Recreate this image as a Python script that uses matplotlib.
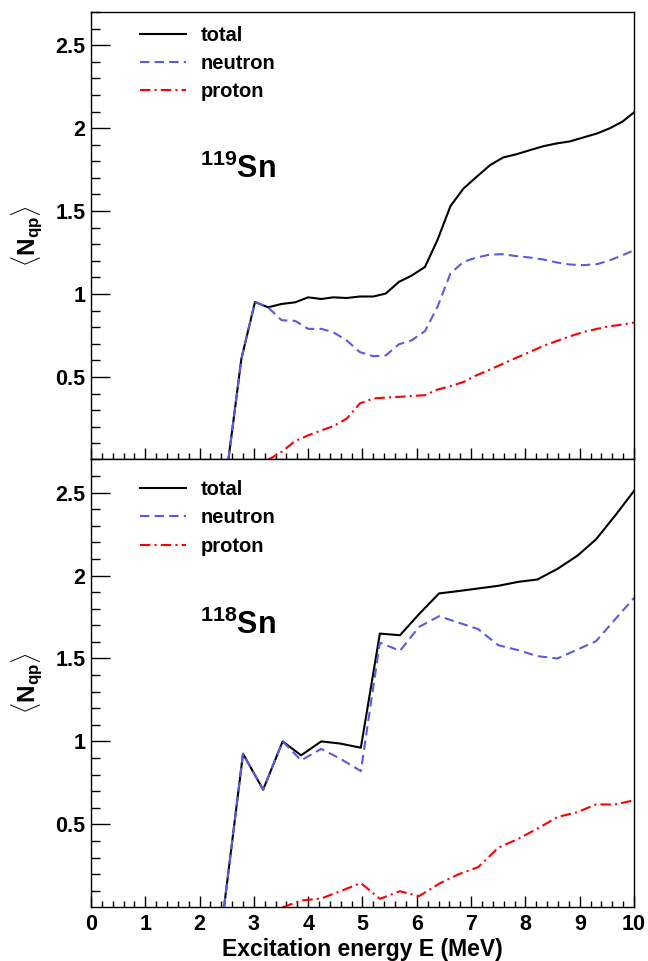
import numpy as np
import matplotlib
matplotlib.use("Agg")
import matplotlib.pyplot as plt
from matplotlib.ticker import MultipleLocator

plt.rcParams['font.family'] = ['Liberation Sans', 'DejaVu Sans']
plt.rcParams['font.weight'] = 'bold'
plt.rcParams['mathtext.fontset'] = 'custom'
plt.rcParams['mathtext.rm'] = 'Liberation Sans:bold'
plt.rcParams['mathtext.bf'] = 'Liberation Sans:bold'
plt.rcParams['mathtext.it'] = 'Liberation Sans:bold'

# --- 119Sn (top panel) ---
x119 = [2.53, 2.77, 3.02, 3.26, 3.51, 3.76, 4.00, 4.24, 4.46, 4.71, 4.95, 5.20, 5.43, 5.67,
        5.90, 6.15, 6.38, 6.62, 6.86, 7.10, 7.35, 7.59, 7.84, 8.08, 8.33, 8.58, 8.82, 9.07,
        9.32, 9.56, 9.79, 10.0]
total119 = [0.0, 0.61, 0.952, 0.92, 0.94, 0.95, 0.98, 0.97, 0.98, 0.976, 0.985, 0.985, 1.003, 1.073,
            1.11, 1.163, 1.325, 1.53, 1.636, 1.706, 1.777, 1.823, 1.843, 1.867, 1.891, 1.908, 1.92, 1.944,
            1.968, 2.0, 2.04, 2.095]
neutron119 = [0.0, 0.61, 0.952, 0.92, 0.842, 0.838, 0.79, 0.79, 0.77, 0.72, 0.65, 0.625, 0.63, 0.697,
              0.72, 0.776, 0.922, 1.124, 1.194, 1.22, 1.238, 1.24, 1.228, 1.22, 1.208, 1.19, 1.178, 1.174,
              1.18, 1.204, 1.234, 1.264]
xp119 = [3.26, 3.51, 3.76, 4.00, 4.24, 4.46, 4.71, 4.95, 5.20, 5.43, 5.67, 5.90, 6.15, 6.38, 6.62,
         6.86, 7.10, 7.35, 7.59, 7.84, 8.08, 8.33, 8.58, 8.82, 9.07, 9.32, 9.56, 9.79, 10.0]
proton119 = [0.0, 0.048, 0.114, 0.148, 0.178, 0.203, 0.249, 0.34, 0.37, 0.376, 0.38, 0.385, 0.39, 0.424,
             0.444, 0.47, 0.51, 0.545, 0.58, 0.617, 0.65, 0.687, 0.717, 0.745, 0.771, 0.79, 0.806, 0.816, 0.828]

# --- 118Sn (bottom panel) ---
x118 = [2.45, 2.80, 3.17, 3.53, 3.87, 4.24, 4.59, 4.97, 5.32, 5.69, 6.04, 6.41, 6.76, 7.13,
        7.50, 7.87, 8.22, 8.59, 8.96, 9.30, 9.65, 10.0]
total118 = [0.0, 0.926, 0.709, 1.0, 0.916, 1.0, 0.987, 0.962, 1.65, 1.64, 1.767, 1.892, 1.906, 1.922,
            1.938, 1.962, 1.976, 2.04, 2.12, 2.218, 2.36, 2.51]
neutron118 = [0.0, 0.926, 0.709, 1.0, 0.886, 0.955, 0.896, 0.821, 1.596, 1.546, 1.69, 1.755, 1.717, 1.677,
              1.58, 1.55, 1.514, 1.5, 1.554, 1.604, 1.735, 1.865]
xp118 = [3.53, 3.87, 4.24, 4.59, 4.97, 5.32, 5.69, 6.04, 6.41, 6.76, 7.13, 7.50, 7.87, 8.22, 8.59,
         8.96, 9.30, 9.65, 10.0]
proton118 = [0.0, 0.041, 0.053, 0.097, 0.146, 0.051, 0.097, 0.067, 0.142, 0.198, 0.242, 0.359, 0.413,
             0.474, 0.544, 0.574, 0.62, 0.62, 0.645]

panels = [
    ("119", x119, total119, neutron119, xp119, proton119, 1.70, 0.968),
    ("118", x118, total118, neutron118, xp118, proton118, 1.65, 0.953),
]

fig, axes = plt.subplots(2, 1, figsize=(6.48, 9.61), dpi=100, sharex=True)
fig.subplots_adjust(left=0.1404, right=0.9784, top=0.9875, bottom=0.0564, hspace=0)

blue = '#5a5ae6'
for ax, (mass, x, tot, neu, xp, pro, ylab_y, leg_y) in zip(axes, panels):
    ax.plot(x, tot, color='k', lw=1.5, label='total')
    ax.plot(x, neu, color=blue, lw=1.5, dashes=(4.5, 2.5), label='neutron')
    ax.plot(xp, pro, color='red', lw=1.5, dashes=(5, 2, 1, 2), label='proton')

    ax.set_xlim(0, 10)
    ax.set_ylim(0.003, 2.7)
    ax.set_yticks([0.5, 1, 1.5, 2, 2.5])
    ax.set_yticklabels(['0.5', '1', '1.5', '2', '2.5'])
    ax.yaxis.set_minor_locator(MultipleLocator(0.1))
    ax.set_xticks(range(11))
    ax.xaxis.set_minor_locator(MultipleLocator(0.2))
    ax.tick_params(axis='y', which='major', direction='in', length=13.5, width=1, labelsize=15.5, pad=4)
    ax.tick_params(axis='y', which='minor', direction='in', length=6.8, width=1)
    ax.tick_params(axis='x', which='major', direction='in', length=8, width=1, labelsize=15.5, pad=5)
    ax.tick_params(axis='x', which='minor', direction='in', length=4, width=1)
    for s in ax.spines.values():
        s.set_linewidth(1)

    ax.set_ylabel(r'$\langle\mathbf{N_{qp}}\rangle$', fontsize=17.5, labelpad=8)
    ax.text(2.0, ylab_y, r'$^{%s}$Sn' % mass, fontsize=22, fontweight='bold')

    ax.legend(loc='upper left', bbox_to_anchor=(0.09, leg_y), frameon=False, fontsize=14.5,
              handlelength=2.3, handletextpad=0.7, labelspacing=0.45, borderpad=0, borderaxespad=0)

axes[0].tick_params(axis='x', labelbottom=False)
axes[1].set_xlabel('Excitation energy E (MeV)', fontsize=16.5, fontweight='bold', labelpad=2)

plt.savefig('out.png', dpi=100)
